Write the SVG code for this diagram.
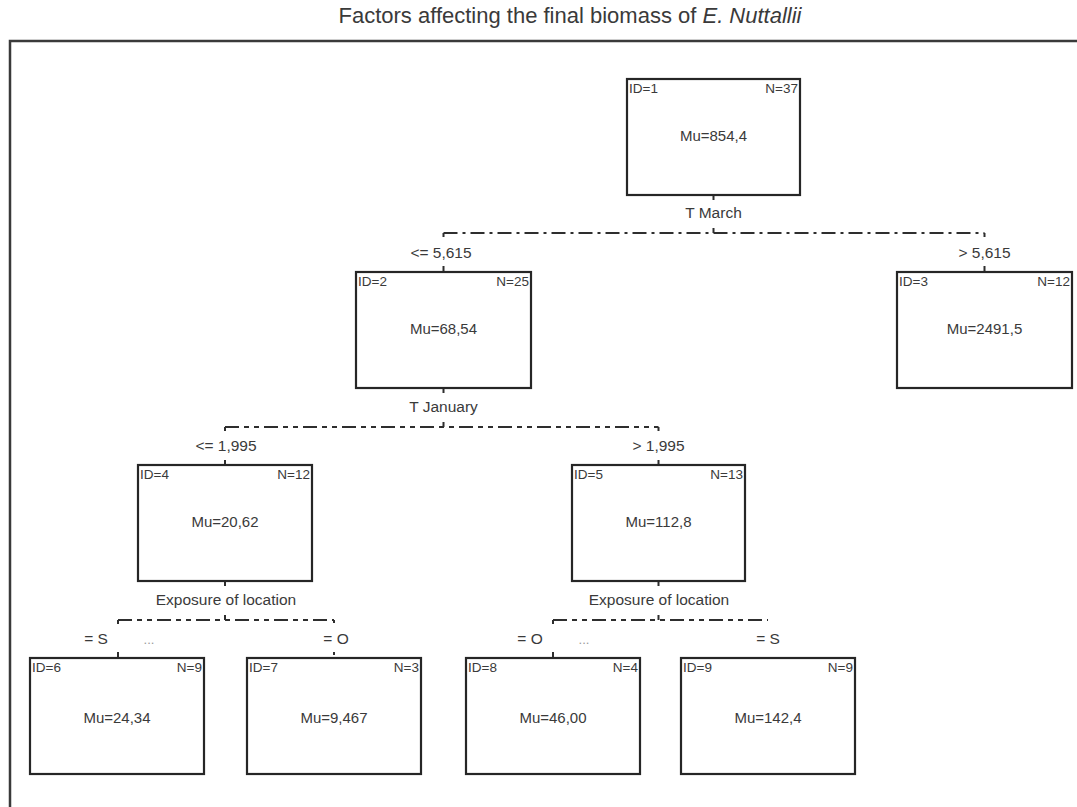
<svg xmlns="http://www.w3.org/2000/svg" width="1077" height="807" viewBox="0 0 1077 807">
<style>
text{font-family:"Liberation Sans",Arial,sans-serif;fill:#3a3a3a}
.t{font-size:22px}
.s{font-size:13.5px}
.m{font-size:15px}
.l{font-size:15.5px}
.g{font-size:13px;fill:#9a9a9a}
.box{fill:#fff;stroke:#262626;stroke-width:2.2}
.tick{stroke:#2e2e2e;stroke-width:2;fill:none}
.d1{stroke:#2e2e2e;stroke-width:2;fill:none;stroke-dasharray:14 5 3 5}
.d2{stroke:#2e2e2e;stroke-width:2;fill:none;stroke-dasharray:14 5 5 5 5 5}
</style>
<rect width="1077" height="807" fill="#fff"/>
<text class="t" x="570" y="23" text-anchor="middle">Factors affecting the final biomass of <tspan font-style="italic">E. Nuttallii</tspan></text>
<path d="M10,807 V41 H1077" fill="none" stroke="#3a3a3a" stroke-width="2.5"/>
<g id="connectors">
<path class="tick" d="M713.5,196 V200 M713.5,228 V233"/>
<path class="d1" d="M443.5,233 H984.5"/>
<path class="tick" d="M443.5,233 V237 M984.5,233 V237 M443.5,266 V272 M984.5,266 V272"/>
<path class="tick" d="M443.5,389 V393 M443.5,422 V427"/>
<path class="d2" d="M225,427 H658.5"/>
<path class="tick" d="M225,427 V431 M658.5,427 V431 M225,460 V465 M658.5,460 V465"/>
<path class="tick" d="M225,582 V586 M225,615 V620"/>
<path class="d2" d="M118,620 H334"/>
<path class="tick" d="M118,620 V624 M334,620 V623 M118,652 V658 M334,652 V655"/>
<path class="tick" d="M658.5,582 V586 M658.5,615 V620"/>
<path class="d2" d="M553,620 H768"/>
<path class="tick" d="M553,620 V624 M553,652 V658"/>
<text class="l" x="713.5" y="218" text-anchor="middle">T March</text>
<text class="l" x="441" y="258" text-anchor="middle">&lt;= 5,615</text>
<text class="l" x="984.5" y="258" text-anchor="middle">&gt; 5,615</text>
<text class="l" x="443.5" y="412" text-anchor="middle">T January</text>
<text class="l" x="226" y="451" text-anchor="middle">&lt;= 1,995</text>
<text class="l" x="658.5" y="451" text-anchor="middle">&gt; 1,995</text>
<text class="l" x="226" y="605" text-anchor="middle">Exposure of location</text>
<text class="l" x="96" y="644" text-anchor="middle">= S</text>
<text class="g" x="149" y="644" text-anchor="middle">...</text>
<text class="l" x="336" y="644" text-anchor="middle">= O</text>
<text class="l" x="659" y="605" text-anchor="middle">Exposure of location</text>
<text class="l" x="530" y="644" text-anchor="middle">= O</text>
<text class="g" x="584" y="644" text-anchor="middle">...</text>
<text class="l" x="768" y="644" text-anchor="middle">= S</text>
</g>
<g id="node1">
<rect class="box" x="627" y="79" width="173" height="116"/>
<text class="s" x="629" y="93">ID=1</text>
<text class="s" x="798" y="93" text-anchor="end">N=37</text>
<text class="m" x="713.5" y="141" text-anchor="middle">Mu=854,4</text>
</g>
<g id="node2">
<rect class="box" x="356" y="272" width="175" height="116"/>
<text class="s" x="358" y="286">ID=2</text>
<text class="s" x="529" y="286" text-anchor="end">N=25</text>
<text class="m" x="443.5" y="334" text-anchor="middle">Mu=68,54</text>
</g>
<g id="node3">
<rect class="box" x="897" y="272" width="175" height="116"/>
<text class="s" x="899" y="286">ID=3</text>
<text class="s" x="1070" y="286" text-anchor="end">N=12</text>
<text class="m" x="984.5" y="334" text-anchor="middle">Mu=2491,5</text>
</g>
<g id="node4">
<rect class="box" x="138" y="465" width="174" height="116"/>
<text class="s" x="140" y="479">ID=4</text>
<text class="s" x="310" y="479" text-anchor="end">N=12</text>
<text class="m" x="225" y="527" text-anchor="middle">Mu=20,62</text>
</g>
<g id="node5">
<rect class="box" x="572" y="465" width="173" height="116"/>
<text class="s" x="574" y="479">ID=5</text>
<text class="s" x="743" y="479" text-anchor="end">N=13</text>
<text class="m" x="658.5" y="527" text-anchor="middle">Mu=112,8</text>
</g>
<g id="node6">
<rect class="box" x="30" y="658" width="174" height="116"/>
<text class="s" x="32" y="672">ID=6</text>
<text class="s" x="202" y="672" text-anchor="end">N=9</text>
<text class="m" x="117" y="723" text-anchor="middle">Mu=24,34</text>
</g>
<g id="node7">
<rect class="box" x="247" y="658" width="174" height="116"/>
<text class="s" x="249" y="672">ID=7</text>
<text class="s" x="419" y="672" text-anchor="end">N=3</text>
<text class="m" x="334" y="723" text-anchor="middle">Mu=9,467</text>
</g>
<g id="node8">
<rect class="box" x="466" y="658" width="174" height="116"/>
<text class="s" x="468" y="672">ID=8</text>
<text class="s" x="638" y="672" text-anchor="end">N=4</text>
<text class="m" x="553" y="723" text-anchor="middle">Mu=46,00</text>
</g>
<g id="node9">
<rect class="box" x="681" y="658" width="174" height="116"/>
<text class="s" x="683" y="672">ID=9</text>
<text class="s" x="853" y="672" text-anchor="end">N=9</text>
<text class="m" x="768" y="723" text-anchor="middle">Mu=142,4</text>
</g>
</svg>
